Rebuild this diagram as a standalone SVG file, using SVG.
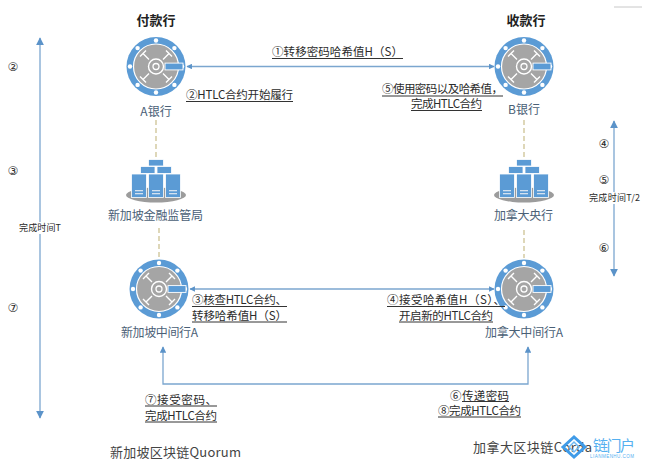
<svg xmlns="http://www.w3.org/2000/svg" xmlns:xlink="http://www.w3.org/1999/xlink" width="646" height="464" viewBox="0 0 646 464">
<style>
text{font-family:"Noto Sans CJK SC","Liberation Sans",sans-serif;fill:#2b2b2b}
.h{font-size:13px;font-weight:700;text-anchor:middle;fill:#222}
.n{font-size:12px;text-anchor:middle;fill:#4a6076}
.l{font-size:11.5px}
.s{font-size:9px;text-anchor:middle}
.c{font-size:12px;text-anchor:middle;font-family:"DejaVu Sans",sans-serif}
.b{font-size:13px;fill:#444}
.u{stroke:#333;stroke-width:1;fill:none}
.a{stroke:#7ba6cf;stroke-width:1.3;fill:none}
.d{stroke:#c9bd8a;stroke-width:1.2;stroke-dasharray:5 3;fill:none}
</style>
<defs>
<marker id="ah" viewBox="0 0 10 10" refX="9" refY="5" markerWidth="5.500" markerHeight="5.500" orient="auto-start-reverse" markerUnits="userSpaceOnUse"><path d="M0 0L10 5L0 10z" fill="#5b93c9"/></marker>
<marker id="am" viewBox="0 0 10 10" refX="9" refY="5" markerWidth="6.500" markerHeight="6.500" orient="auto-start-reverse" markerUnits="userSpaceOnUse"><path d="M0 0L10 5L0 10z" fill="#5b93c9"/></marker>
<marker id="al" viewBox="0 0 10 10" refX="9" refY="5" markerWidth="8" markerHeight="8" orient="auto-start-reverse" markerUnits="userSpaceOnUse"><path d="M0 0L10 5L0 10z" fill="#5b93c9"/></marker>
<g id="vault">
<circle r="29.500" fill="#5b9bd5"/>
<circle r="22.500" fill="#a5a5a5" stroke="#fff" stroke-width="1.200"/>
<g fill="#fff"><circle cx="0" cy="-26" r="2.200"/><circle cx="18.400" cy="-18.400" r="2.200"/><circle cx="26" cy="0" r="2.200"/><circle cx="18.400" cy="18.400" r="2.200"/><circle cx="0" cy="26" r="2.200"/><circle cx="-18.400" cy="18.400" r="2.200"/><circle cx="-26" cy="0" r="2.200"/><circle cx="-18.400" cy="-18.400" r="2.200"/></g>
<g stroke="#fff" stroke-width="1.400" fill="none"><path d="M-7-7L-13-13M-16-10L-10-16M7-7L13-13M16-10L10-16M-7 7L-13 13M-16 10L-10 16M7 7L13 13M16 10L10 16"/><circle r="7.500"/></g>
<circle r="3" fill="none" stroke="#fff" stroke-width="1.300"/>
<rect x="9" y="-3.400" width="18" height="6.800" fill="#5b9bd5" stroke="#fff" stroke-width=".9"/>
</g>
<g id="server">
<ellipse cx="0" cy="195" rx="30" ry="7.500" fill="#9c9c9c"/>
<g fill="#5b9bd5" stroke="#fff" stroke-width=".8">
<rect x="-7.500" y="159.500" width="15" height="6.500"/>
<rect x="-15.500" y="166.500" width="14.500" height="7"/><rect x="1" y="166.500" width="14.500" height="7"/>
<rect x="-24.500" y="174" width="15" height="23.500"/><rect x="-7.500" y="174" width="15" height="23.500"/><rect x="9.500" y="174" width="15" height="23.500"/>
</g>
<g fill="#d4e2f0"><rect x="-21" y="190" width="8" height="1.300"/><rect x="-21" y="193" width="8" height="1.300"/><rect x="-4" y="190" width="8" height="1.300"/><rect x="-4" y="193" width="8" height="1.300"/><rect x="13" y="190" width="8" height="1.300"/><rect x="13" y="193" width="8" height="1.300"/></g>
</g>
</defs>
<rect width="646" height="464" fill="#fff"/>
<g id="connectors">
<path class="d" d="M156 120V160M159 228V258M524 120V160M524 230V258"/>
<path class="a" d="M187 66.500H494" marker-start="url(#ah)" marker-end="url(#ah)"/>
<path class="a" d="M190 289H494" marker-start="url(#ah)" marker-end="url(#ah)"/>
<path class="a" d="M163 347V384H528V347" marker-start="url(#am)" marker-end="url(#am)"/>
<path class="a" d="M40 38V418" marker-start="url(#al)" marker-end="url(#al)"/>
<path class="a" d="M614 121V276" marker-start="url(#al)" marker-end="url(#al)"/>
<path d="M614 7H642" stroke="#c8c8c8" stroke-width="1" fill="none"/>
</g>
<g id="node-a-bank"><use xlink:href="#vault" href="#vault" transform="translate(156 66.500)"/><text class="n" x="156" y="116">A银行</text></g>
<g id="node-b-bank"><use xlink:href="#vault" href="#vault" transform="translate(524 66.500)"/><text class="n" x="524" y="114">B银行</text></g>
<g id="node-sg-reg"><use xlink:href="#server" href="#server" transform="translate(156 0)"/><text class="n" x="155.500" y="220" textLength="95">新加坡金融监管局</text></g>
<g id="node-ca-reg"><use xlink:href="#server" href="#server" transform="translate(524 0)"/><text class="n" x="523.500" y="220" textLength="59">加拿大央行</text></g>
<g id="node-sg-mid"><use xlink:href="#vault" href="#vault" transform="translate(159 289)"/><text class="n" x="159.500" y="337" textLength="77">新加坡中间行A</text></g>
<g id="node-ca-mid"><use xlink:href="#vault" href="#vault" transform="translate(524 289)"/><text class="n" x="524" y="337" textLength="78">加拿大中间行A</text></g>
<g id="labels">
<text class="h" x="156" y="25">付款行</text>
<text class="h" x="526" y="25">收款行</text>
<text class="l" x="272" y="56" textLength="131">①转移密码哈希值H（S）</text><path class="u" d="M272 58.500H403"/>
<text class="l" x="186" y="99" textLength="107">②HTLC合约开始履行</text><path class="u" d="M186 101.500H293"/>
<text class="l" x="382" y="93" textLength="121">⑤使用密码以及哈希值，</text><path class="u" d="M382 96H503"/>
<text class="l" x="411" y="108" textLength="71">完成HTLC合约</text><path class="u" d="M411 110.500H482"/>
<text class="l" x="192" y="304" textLength="95">③核查HTLC合约、</text><path class="u" d="M192 306.500H287"/>
<text class="l" x="192" y="319.500" textLength="95">转移哈希值H（S）</text><path class="u" d="M192 322H287"/>
<text class="l" x="387" y="304" textLength="118">④接受哈希值H（S）、</text><path class="u" d="M387 306.500H505"/>
<text class="l" x="399" y="319.500" textLength="94">开启新的HTLC合约</text><path class="u" d="M399 322H493"/>
<text class="l" x="145" y="404" textLength="72">⑦接受密码、</text><path class="u" d="M145 406H217"/>
<text class="l" x="145" y="420" textLength="72">完成HTLC合约</text><path class="u" d="M145 422H217"/>
<text class="l" x="450" y="400" textLength="59">⑥传递密码</text><path class="u" d="M462 401.500H509"/>
<text class="l" x="438" y="415" textLength="83">⑧完成HTLC合约</text><path class="u" d="M438 417H521"/>
<text class="b" x="110" y="456.500" textLength="131">新加坡区块链Quorum</text>
<text class="b" x="473" y="451.500" textLength="119">加拿大区块链Corda</text>
<text class="c" x="13" y="71">②</text>
<text class="c" x="13" y="175">③</text>
<text class="c" x="13" y="312">⑦</text>
<rect x="18" y="222" width="44" height="12" fill="#fff"/>
<text class="s" x="40" y="231" textLength="42">完成时间T</text>
<text class="c" x="604" y="148">④</text>
<text class="c" x="604" y="184">⑤</text>
<rect x="588" y="192" width="53" height="12" fill="#fff"/>
<text class="s" x="614.500" y="201" textLength="51">完成时间T/2</text>
<text class="c" x="604" y="252">⑥</text>
</g>
<g id="watermark">
<path d="M563 447L574 437L585 447L574 457z" fill="none" stroke="#3f9be8" stroke-width="3"/>
<path d="M569 447L574 442L579 447L574 452z" fill="none" stroke="#6fb9f2" stroke-width="1.500"/>
<text x="593" y="451" font-size="15" style="fill:#55b0f0" textLength="42">链门户</text>
<text x="590" y="457.500" font-size="4.500" style="fill:#55b0f0;font-family:'Liberation Sans',sans-serif" textLength="44">LIANMENHU.COM</text>
</g>
</svg>
